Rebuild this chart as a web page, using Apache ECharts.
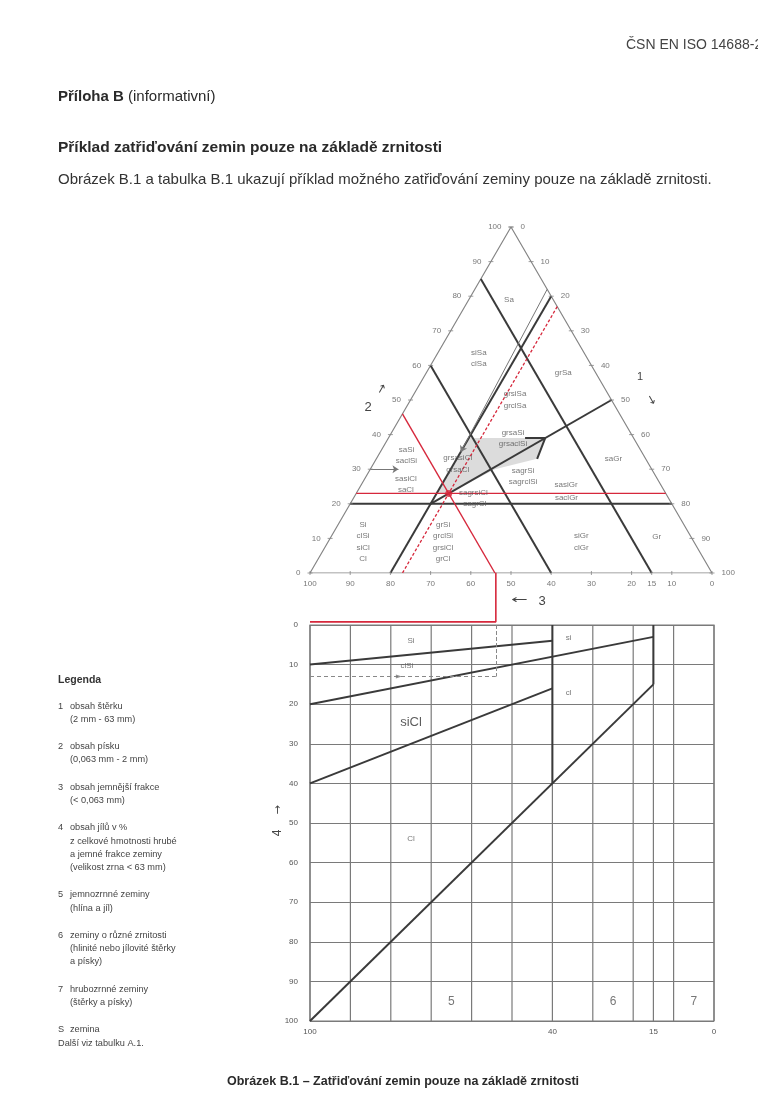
<!DOCTYPE html>
<html>
<head>
<meta charset="utf-8">
<script src="https://cdn.jsdelivr.net/npm/echarts@6/dist/echarts.min.js"></script>
<style>
  html, body { margin: 0; background: #fff; overflow: hidden; }
  #chart { width: 758px; height: 1097px; }
</style>
</head>
<body>
<div id="chart"></div>
<script>
// ---------- ternary diagram: every point is [sand %, gravel %], fines = the rest
var triangle = [[100, 0], [0, 0], [0, 100], [100, 0]];
var boundaryLines = [
  [[85, 0], [0, 85]],    // fines 15 %
  [[60, 0], [0, 60]],    // fines 40 %
  [[80, 20], [0, 20]],   // gravel 20 %
  [[20, 0], [20, 80]],   // sand 20 %
  [[50, 50], [20, 20]]   // sand = gravel
];
var arrowHead = [[39, 34], [39, 39], [33, 40]];
var pointerLines = [
  [[82, 18], [35, 20]],
  [[30, 0], [30, 7]]
];
var shadedArea = [[39, 20], [39, 39], [33, 40], [30, 31], [23, 23], [23, 20]];
var redSolid = [
  [[46, 0], [0, 46]],
  [[23, 0], [23, 77]]
];
var redDashed = [[77, 23], [0, 23]];
var samplePoint = [23, 23];
var sideValues = [0, 10, 20, 30, 40, 50, 60, 70, 80, 90, 100];
var finesTicks = [100, 90, 80, 70, 60, 50, 40, 30, 20, 15, 10, 0];
var zoneLabels = [
  ['Sa', 79, 10],
  ['siSa\nclSa', 62, 11],
  ['grSa', 58, 34],
  ['grsiSa\ngrclSa', 50, 26],
  ['saSi\nsaclSi', 34, 7],
  ['sasiCl\nsaCl', 25.7, 11],
  ['grsaSi\ngrsaclSi', 39, 31],
  ['grsasiCl\ngrsaCl', 31.5, 21],
  ['sagrSi\nsagrclSi', 28, 39],
  ['sagrsiCl', 23.3, 29],
  ['sagrCl', 20, 31],
  ['sasiGr', 25.4, 51],
  ['saclGr', 21.6, 53],
  ['saGr', 33, 59],
  ['siGr\nclGr', 9, 63],
  ['Gr', 10.5, 81],
  ['Si\nclSi\nsiCl\nCl', 9, 8.7],
  ['grSi\ngrclSi\ngrsiCl\ngrCl', 9, 28.6]
];

// ---------- lower chart: x = fines content %, y = clay content %
var gridXs = [100, 90, 80, 70, 60, 50, 40, 30, 20, 15, 10, 0];
var xTickLabels = [100, 40, 15, 0];
var clayLines = [
  [[100, 10], [40, 4]],
  [[100, 20], [15, 3]],
  [[100, 40], [40, 16]],
  [[40, 0], [40, 40]],
  [[15, 0], [15, 15]],
  [[100, 100], [15, 15]]
];
var lowerLabels = [
  ['Si', 75, 4], ['si', 36, 3.3], ['clSi', 76, 10.2], ['cl', 36, 17],
  ['siCl', 75, 24.5], ['Cl', 75, 54],
  ['5', 65, 95], ['6', 25, 95], ['7', 5, 95]
];
var readFines = 54;
var readClay = 13;
var readPath = [[54, -13.2], [54, -0.8], [100, -0.8]];

// ---------- legend texts
var legendItems = [
  ['1', ['obsah štěrku', '(2 mm - 63 mm)']],
  ['2', ['obsah písku', '(0,063 mm - 2 mm)']],
  ['3', ['obsah jemnější frakce', '(< 0,063 mm)']],
  ['4', ['obsah jílů v %', 'z celkové hmotnosti hrubé', 'a jemné frakce zeminy', '(velikost zrna < 63 mm)']],
  ['5', ['jemnozrnné zeminy', '(hlína a jíl)']],
  ['6', ['zeminy o různé zrnitosti', '(hlinité nebo jílovité štěrky', 'a písky)']],
  ['7', ['hrubozrnné zeminy', '(štěrky a písky)']],
  ['S', ['zemina', 'Další viz tabulku A.1.']]
];

var FONT = 'Liberation Sans, Arial, sans-serif';
var DARK = '#3a3a3a';
var GREY = '#858585';
var RED = '#d6283c';

function tern(p) {
  return [p[1] + p[0] / 2, p[0] * 0.866];
}

var series = [];

function tLine(pts, color, width, type, z) {
  series.push({
    type: 'line', xAxisIndex: 0, yAxisIndex: 0, silent: true,
    data: pts.map(tern), symbol: 'none', z: z || 3,
    lineStyle: { color: color, width: width, type: type || 'solid' }
  });
}

// shaded zone
series.push({
  type: 'custom', xAxisIndex: 0, yAxisIndex: 0, silent: true, z: 1,
  data: [0],
  renderItem: function (params, api) {
    return {
      type: 'polygon',
      shape: { points: shadedArea.map(function (p) { return api.coord(tern(p)); }) },
      style: { fill: 'rgba(140,140,140,0.3)' }
    };
  }
});

tLine(triangle, GREY, 1.2);
boundaryLines.forEach(function (l) { tLine(l, DARK, 2); });
tLine(arrowHead, DARK, 2);

// thin pointer lines with arrows
series.push({
  type: 'line', xAxisIndex: 0, yAxisIndex: 0, data: [], silent: true,
  markLine: {
    silent: true, symbol: ['none', 'arrow'], symbolSize: 6, label: { show: false },
    lineStyle: { color: '#777', width: 1, type: 'solid' },
    data: pointerLines.map(function (l) {
      return [{ coord: tern(l[0]) }, { coord: tern(l[1]) }];
    })
  }
});

redSolid.forEach(function (l) { tLine(l, RED, 1.4, 'solid', 4); });
tLine(redDashed, RED, 1.3, [3, 2], 4);
series.push({
  type: 'scatter', xAxisIndex: 0, yAxisIndex: 0, silent: true, z: 6,
  symbolSize: 7, itemStyle: { color: RED },
  data: [tern(samplePoint)]
});

// ternary ticks and tick labels
function tickSeries(points, labels, pos, dist, size) {
  series.push({
    type: 'scatter', xAxisIndex: 0, yAxisIndex: 0, silent: true, z: 5,
    symbol: 'rect', symbolSize: size, itemStyle: { color: GREY },
    data: points.map(function (p, i) { return { value: tern(p), name: String(labels[i]) }; }),
    label: { show: true, position: pos, distance: dist, formatter: '{b}', fontSize: 8, color: '#555', fontFamily: FONT }
  });
}
tickSeries(sideValues.map(function (v) { return [v, 0]; }), sideValues, 'left', 7, [5, 1]);
tickSeries(sideValues.map(function (v) { return [100 - v, v]; }), sideValues, 'right', 7, [5, 1]);
tickSeries(finesTicks.map(function (f) { return [0, 100 - f]; }), finesTicks, 'bottom', 5, [1, 4]);

// zone labels
series.push({
  type: 'scatter', xAxisIndex: 0, yAxisIndex: 0, silent: true, z: 7,
  symbolSize: 0,
  data: zoneLabels.map(function (l) { return { name: l[0], value: tern([l[1], l[2]]) }; }),
  label: { show: true, position: 'inside', formatter: '{b}', fontSize: 8, lineHeight: 11.5, color: '#555', fontFamily: FONT }
});

// ---------- lower chart series
gridXs.forEach(function (x) {
  series.push({
    type: 'line', xAxisIndex: 1, yAxisIndex: 1, silent: true, symbol: 'none', z: 2,
    data: [[x, 0], [x, 100]], lineStyle: { color: '#7a7a7a', width: 1.2 }
  });
});
clayLines.forEach(function (l) {
  series.push({
    type: 'line', xAxisIndex: 1, yAxisIndex: 1, silent: true, symbol: 'none', z: 3,
    data: l, lineStyle: { color: DARK, width: 2 }
  });
});
series.push({
  type: 'line', xAxisIndex: 1, yAxisIndex: 1, data: [], silent: true,
  markLine: {
    silent: true, symbol: 'none', label: { show: false },
    lineStyle: { color: '#888', width: 1 },
    data: [
      [{ coord: [readFines, 0] }, { coord: [readFines, readClay] }],
      [{ coord: [100, readClay], lineStyle: { type: [4, 3] } }, { coord: [readFines, readClay] }]
    ]
  }
});
series.push({
  type: 'scatter', xAxisIndex: 1, yAxisIndex: 1, silent: true, z: 5,
  symbol: 'triangle', symbolRotate: -90, symbolSize: [4, 6], itemStyle: { color: '#777' },
  data: [[78, readClay]]
});
series.push({
  type: 'line', xAxisIndex: 1, yAxisIndex: 1, silent: true, symbol: 'none', z: 6, clip: false,
  data: readPath, lineStyle: { color: RED, width: 1.6 }
});
series.push({
  type: 'scatter', xAxisIndex: 1, yAxisIndex: 1, silent: true, z: 7, symbolSize: 0,
  data: lowerLabels.map(function (l) {
    var big = l[0] === 'siCl';
    var num = /^[0-9]$/.test(l[0]);
    return {
      name: l[0], value: [l[1], l[2]],
      label: { fontSize: big ? 13 : (num ? 12 : 8), color: big ? '#333' : '#555' }
    };
  }),
  label: { show: true, position: 'inside', formatter: '{b}', fontFamily: FONT }
});

// ---------- page texts
var graphics = [
  { type: 'text', x: 626, y: 45, style: { text: 'ČSN EN ISO 14688-2', font: '14px ' + FONT, fill: '#444', textVerticalAlign: 'middle' } },
  { type: 'text', x: 58, y: 97, style: { text: '{b|Příloha B} (informativní)', font: '15px ' + FONT, fill: '#2a2a2a', textVerticalAlign: 'middle', rich: { b: { fontWeight: 'bold', fontSize: 15, fontFamily: FONT } } } },
  { type: 'text', x: 58, y: 148, style: { text: 'Příklad zatřiďování zemin pouze na základě zrnitosti', font: 'bold 15.5px ' + FONT, fill: '#2a2a2a', textVerticalAlign: 'middle' } },
  { type: 'text', x: 58, y: 180, style: { text: 'Obrázek B.1 a tabulka B.1 ukazují příklad možného zatřiďování zeminy pouze na základě zrnitosti.', font: '15px ' + FONT, fill: '#333', textVerticalAlign: 'middle' } },
  { type: 'text', x: 403, y: 1082, style: { text: 'Obrázek B.1 – Zatřiďování zemin pouze na základě zrnitosti', font: 'bold 12.5px ' + FONT, fill: '#2a2a2a', textAlign: 'center', textVerticalAlign: 'middle' } },
  { type: 'text', x: 58, y: 680, style: { text: 'Legenda', font: 'bold 10.5px ' + FONT, fill: '#333', textVerticalAlign: 'middle' } },
  // axis annotations
  { type: 'text', x: 368, y: 407, style: { text: '2', font: '13px ' + FONT, fill: '#444', textAlign: 'center', textVerticalAlign: 'middle' } },
  { type: 'text', x: 382, y: 389, rotation: Math.PI / 3, style: { text: '→', font: '12px DejaVu Sans', fill: '#444', textAlign: 'center', textVerticalAlign: 'middle' } },
  { type: 'text', x: 640, y: 377, style: { text: '1', font: '11px ' + FONT, fill: '#444', textAlign: 'center', textVerticalAlign: 'middle' } },
  { type: 'text', x: 651, y: 400, rotation: -Math.PI / 3, style: { text: '→', font: '12px DejaVu Sans', fill: '#444', textAlign: 'center', textVerticalAlign: 'middle' } },
  { type: 'text', x: 519, y: 600, scaleX: 1.8, style: { text: '←', font: '11px DejaVu Sans', fill: '#444', textAlign: 'center', textVerticalAlign: 'middle' } },
  { type: 'text', x: 542, y: 601, style: { text: '3', font: '13px ' + FONT, fill: '#444', textAlign: 'center', textVerticalAlign: 'middle' } },
  { type: 'text', x: 278, y: 810, rotation: Math.PI / 2, style: { text: '→', font: '11px DejaVu Sans', fill: '#444', textAlign: 'center', textVerticalAlign: 'middle' } },
  { type: 'text', x: 278, y: 833, rotation: Math.PI / 2, style: { text: '4', font: '12px ' + FONT, fill: '#444', textAlign: 'center', textVerticalAlign: 'middle' } }
];

var ly = 706;
legendItems.forEach(function (item) {
  item[1].forEach(function (line, li) {
    if (li === 0) {
      graphics.push({ type: 'text', x: 58, y: ly, style: { text: item[0], font: '9.2px ' + FONT, fill: '#444', textVerticalAlign: 'middle' } });
    }
    var isLast = item[0] === 'S' && li === 1;
    graphics.push({ type: 'text', x: isLast ? 58 : 70, y: ly, style: { text: line, font: '9.2px ' + FONT, fill: '#444', textVerticalAlign: 'middle' } });
    ly += 13.2;
  });
  ly += 14.2;
});

var chart = echarts.init(document.getElementById('chart'));
chart.setOption({
  backgroundColor: '#fff',
  animation: false,
  grid: [
    { left: 310, top: 227, width: 402, height: 346 },
    { left: 310, top: 625, width: 404, height: 396, show: true, borderColor: '#7a7a7a', borderWidth: 1.2 }
  ],
  xAxis: [
    { gridIndex: 0, type: 'value', min: 0, max: 100, show: false },
    {
      gridIndex: 1, type: 'value', min: 0, max: 100, interval: 5, inverse: true,
      axisLine: { show: false }, axisTick: { show: false }, splitLine: { show: false },
      axisLabel: {
        fontSize: 8, color: '#555', margin: 7, fontFamily: FONT,
        formatter: function (v) { return xTickLabels.indexOf(v) >= 0 ? String(v) : ''; }
      }
    }
  ],
  yAxis: [
    { gridIndex: 0, type: 'value', min: 0, max: 86.6, show: false },
    {
      gridIndex: 1, type: 'value', min: 0, max: 100, interval: 10, inverse: true,
      axisLine: { show: false }, axisTick: { show: false },
      splitLine: { show: true, lineStyle: { color: '#7a7a7a', width: 1.2 } },
      axisLabel: { fontSize: 8, color: '#555', margin: 12, fontFamily: FONT }
    }
  ],
  graphic: graphics,
  series: series
});
</script>
</body>
</html>
